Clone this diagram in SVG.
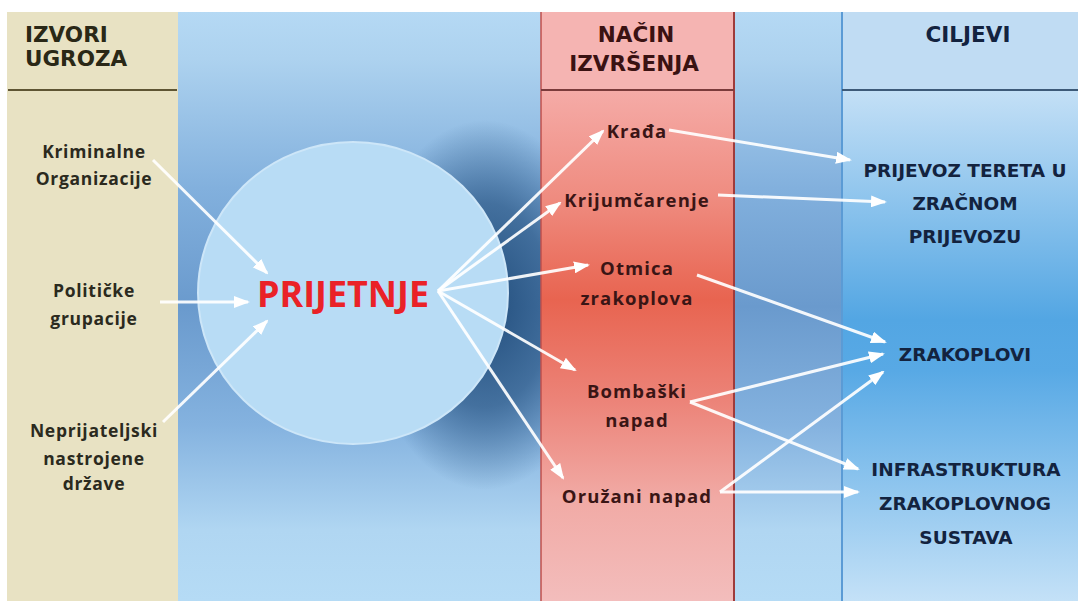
<svg xmlns="http://www.w3.org/2000/svg" width="1078" height="601" viewBox="0 0 1078 601">
  <defs>
    <linearGradient id="gBlue" gradientUnits="userSpaceOnUse" x1="0" y1="12" x2="0" y2="601">
      <stop offset="0" stop-color="#b5d9f4"/>
      <stop offset="0.08" stop-color="#add2ef"/>
      <stop offset="0.3" stop-color="#82b0dd"/>
      <stop offset="0.5" stop-color="#6a9acd"/>
      <stop offset="0.7" stop-color="#84b2df"/>
      <stop offset="0.88" stop-color="#b0d6f2"/>
      <stop offset="1" stop-color="#b5dbf5"/>
    </linearGradient>
    <radialGradient id="gShadow" cx="0.5" cy="0.5" r="0.5">
      <stop offset="0" stop-color="#1f4a78" stop-opacity="0.95"/>
      <stop offset="0.55" stop-color="#2a5684" stop-opacity="0.7"/>
      <stop offset="1" stop-color="#2a5684" stop-opacity="0"/>
    </radialGradient>
    <linearGradient id="gPink" gradientUnits="userSpaceOnUse" x1="0" y1="90" x2="0" y2="601">
      <stop offset="0" stop-color="#f5aba7"/>
      <stop offset="0.215" stop-color="#ef8b7f"/>
      <stop offset="0.41" stop-color="#e86450"/>
      <stop offset="0.607" stop-color="#ec8378"/>
      <stop offset="0.8" stop-color="#f1aaa5"/>
      <stop offset="1" stop-color="#f3bdbc"/>
    </linearGradient>
    <linearGradient id="gRight" gradientUnits="userSpaceOnUse" x1="0" y1="90" x2="0" y2="601">
      <stop offset="0" stop-color="#c4e0f6"/>
      <stop offset="0.45" stop-color="#53a6e3"/>
      <stop offset="0.55" stop-color="#58a9e5"/>
      <stop offset="1" stop-color="#c4e1f7"/>
    </linearGradient>
    <marker id="ah" viewBox="0 0 16 12" refX="14" refY="6" markerWidth="16" markerHeight="12" markerUnits="userSpaceOnUse" orient="auto">
      <path d="M0,0 L16,6 L0,12 Z" fill="#ffffff"/>
    </marker>
    <style>
      .hdr { font-family: "DejaVu Sans", sans-serif; font-weight: bold; font-size: 21.5px; }
      .src { font-family: "Open Sans", sans-serif; font-weight: bold; font-size: 17.5px; letter-spacing: 0.7px; fill: #2b2a1e; text-anchor: middle; }
      .mid { font-family: "Open Sans", sans-serif; font-weight: bold; font-size: 18.5px; letter-spacing: 1.1px; fill: #3a1515; text-anchor: middle; }
      .tgt { font-family: "DejaVu Sans", sans-serif; font-weight: bold; font-size: 18.5px; fill: #13233f; text-anchor: middle; }
      .con { fill: none; stroke: #ffffff; stroke-width: 3; stroke-opacity: 0.92; marker-end: url(#ah); }
    </style>
  </defs>

  <rect x="0" y="0" width="1078" height="601" fill="#ffffff"/>

  <!-- background panel -->
  <g id="background">
    <rect x="178" y="12" width="900" height="589" fill="url(#gBlue)"/>
    <ellipse cx="485" cy="305" rx="120" ry="185" fill="url(#gShadow)"/>
  </g>

  <!-- column: IZVORI UGROZA -->
  <g id="col-izvori">
    <rect x="7" y="12" width="171" height="589" fill="#e8e2c3"/>
    <line x1="8" y1="90" x2="177" y2="90" stroke="#5e5533" stroke-width="2"/>
    <text class="hdr" x="25" y="42" fill="#2a2816">IZVORI</text>
    <text class="hdr" x="25" y="66" fill="#2a2816">UGROZA</text>
  </g>

  <!-- column: NAČIN IZVRŠENJA -->
  <g id="col-nacin">
    <rect x="541" y="12" width="193" height="78" fill="#f5b4b2"/>
    <rect x="541" y="90" width="193" height="511" fill="url(#gPink)"/>
    <line x1="541" y1="12" x2="541" y2="601" stroke="#c0504d" stroke-width="1.5"/>
    <line x1="734" y1="12" x2="734" y2="601" stroke="#9e3b3b" stroke-width="2"/>
    <line x1="541" y1="90" x2="734" y2="90" stroke="#7b3b3b" stroke-width="2"/>
    <text class="hdr" x="636" y="42" fill="#3a1212" text-anchor="middle">NAČIN</text>
    <text class="hdr" x="634" y="71" fill="#3a1212" text-anchor="middle">IZVRŠENJA</text>
  </g>

  <!-- column: CILJEVI -->
  <g id="col-ciljevi">
    <rect x="842" y="12" width="236" height="78" fill="#c0dcf3"/>
    <rect x="842" y="90" width="236" height="511" fill="url(#gRight)"/>
    <line x1="842" y1="12" x2="842" y2="601" stroke="#5b9bd5" stroke-width="2"/>
    <line x1="842" y1="90" x2="1078" y2="90" stroke="#3d5a78" stroke-width="2"/>
    <text class="hdr" x="968" y="42" fill="#13233f" text-anchor="middle">CILJEVI</text>
  </g>

  <!-- central node -->
  <g id="node-prijetnje">
    <ellipse cx="353" cy="293" rx="155" ry="151" fill="#b8dcf5" stroke="#cde6f8" stroke-width="2"/>
    <text x="343" y="307" font-family="'Open Sans', sans-serif" font-weight="bold" font-size="35" fill="#ea2227" text-anchor="middle" textLength="172" lengthAdjust="spacingAndGlyphs">PRIJETNJE</text>
  </g>

  <!-- connectors -->
  <g id="connectors">
    <path class="con" d="M153,160 L267,273"/>
    <path class="con" d="M160,302 L248,302"/>
    <path class="con" d="M163,422 L267,321"/>
    <path class="con" d="M438,291 L603,131"/>
    <path class="con" d="M438,291 L560,203"/>
    <path class="con" d="M438,291 L588,265"/>
    <path class="con" d="M438,291 L575,370"/>
    <path class="con" d="M438,291 L563,478"/>
    <path class="con" d="M669,130 L850,160"/>
    <path class="con" d="M718,195 L885,202"/>
    <path class="con" d="M697,275 L885,342"/>
    <path class="con" d="M690,402 L883,354"/>
    <path class="con" d="M690,402 L858,469"/>
    <path class="con" d="M720,492 L883,372"/>
    <path class="con" d="M720,492 L858,492"/>
  </g>

  <!-- source nodes -->
  <g id="node-kriminalne">
    <text class="src" x="94" y="158">Kriminalne</text>
    <text class="src" x="94" y="185">Organizacije</text>
  </g>
  <g id="node-politicke">
    <text class="src" x="94" y="297">Političke</text>
    <text class="src" x="94" y="325">grupacije</text>
  </g>
  <g id="node-neprijateljski">
    <text class="src" x="94" y="437">Neprijateljski</text>
    <text class="src" x="94" y="465">nastrojene</text>
    <text class="src" x="94" y="490">države</text>
  </g>

  <!-- method nodes -->
  <g id="node-krada"><text class="mid" x="637" y="138">Krađa</text></g>
  <g id="node-krijumcarenje"><text class="mid" x="637" y="207">Krijumčarenje</text></g>
  <g id="node-otmica">
    <text class="mid" x="637" y="275">Otmica</text>
    <text class="mid" x="637" y="305">zrakoplova</text>
  </g>
  <g id="node-bombaski">
    <text class="mid" x="637" y="398">Bombaški</text>
    <text class="mid" x="637" y="427">napad</text>
  </g>
  <g id="node-oruzani"><text class="mid" x="637" y="503">Oružani napad</text></g>

  <!-- target nodes -->
  <g id="node-prijevoz">
    <text class="tgt" x="965" y="177">PRIJEVOZ TERETA U</text>
    <text class="tgt" x="965" y="210">ZRAČNOM</text>
    <text class="tgt" x="965" y="243">PRIJEVOZU</text>
  </g>
  <g id="node-zrakoplovi">
    <text class="tgt" x="965" y="361">ZRAKOPLOVI</text>
  </g>
  <g id="node-infrastruktura">
    <text class="tgt" x="966" y="476">INFRASTRUKTURA</text>
    <text class="tgt" x="965" y="510">ZRAKOPLOVNOG</text>
    <text class="tgt" x="966" y="544">SUSTAVA</text>
  </g>
</svg>
